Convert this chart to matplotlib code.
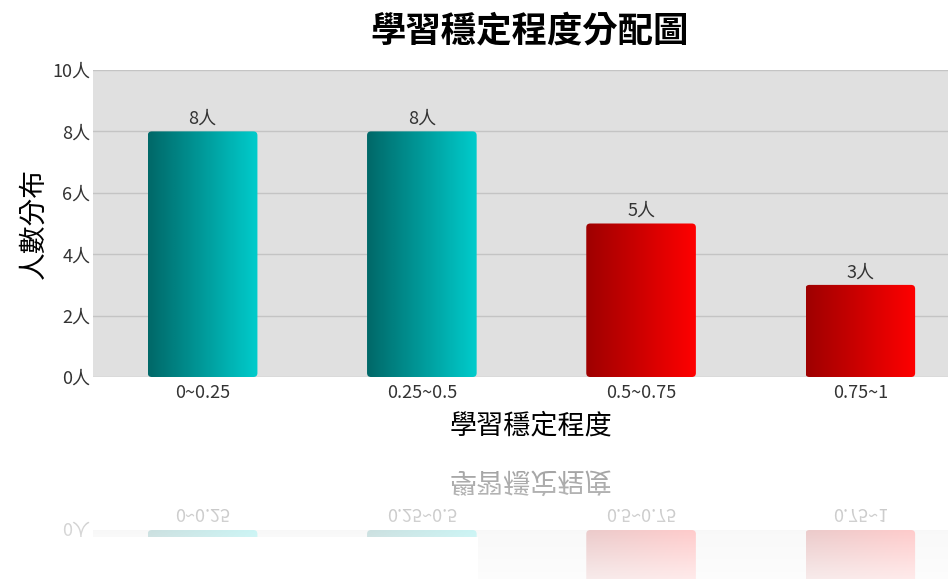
import numpy as np
import matplotlib.pyplot as plt
from matplotlib.colors import LinearSegmentedColormap
from matplotlib.patches import FancyBboxPatch

plt.rcParams['font.family'] = ['Noto Sans CJK TC', 'DejaVu Sans']

# data
categories = ['0~0.25', '0.25~0.5', '0.5~0.75', '0.75~1']
counts = [8, 8, 5, 3]
yticks = [0, 2, 4, 6, 8, 10]
ytick_labels = [f'{v}人' for v in yticks]

teal = LinearSegmentedColormap.from_list('teal', ['#006868', '#00cccc'])
red = LinearSegmentedColormap.from_list('red', ['#9e0000', '#ff0000'])
bar_cmaps = [teal, teal, red, red]

W, H = 948, 579
fig = plt.figure(figsize=(W / 100, H / 100), dpi=100)
ax = fig.add_axes([93 / W, 1 - 377 / H, 1 - 93 / W, (377 - 70) / H])
ax.set_facecolor('#e0e0e0')
ax.set_xlim(-0.5, 3.4)
ax.set_ylim(0, 10)

x = np.arange(len(categories))
bars = ax.bar(x, counts, width=0.5, color='none', edgecolor='none', zorder=3)

# pixels per data unit, used to keep the corner rounding circular
px_x = ax.bbox.width / 3.9
px_y = ax.bbox.height / 10
grad = np.linspace(0, 1, 256).reshape(1, -1)
for bar, cmap, v in zip(bars, bar_cmaps, counts):
    x0, w = bar.get_x(), bar.get_width()
    shape = FancyBboxPatch((x0, 0), w, v, boxstyle=f'round,pad=0,rounding_size={4 / px_x}',
                           mutation_aspect=px_x / px_y, facecolor='none',
                           edgecolor='none', transform=ax.transData)
    ax.add_patch(shape)
    im = ax.imshow(grad, cmap=cmap, aspect='auto', extent=[x0, x0 + w, 0, v],
                   zorder=3, interpolation='bilinear')
    im.set_clip_path(shape)
    ax.text(x0 + w / 2, v + 0.12, f'{v}人', ha='center', va='bottom',
            fontsize=13, color='#333333', zorder=4)

ax.set_xlim(-0.5, 3.4)
ax.set_ylim(0, 10)
ax.set_yticks(yticks)
ax.set_yticklabels(ytick_labels)
ax.set_xticks(x)
ax.set_xticklabels(categories)
ax.tick_params(axis='x', length=0, labelsize=13, labelcolor='#333333', pad=5)
ax.tick_params(axis='y', length=0, labelsize=13, labelcolor='#333333', pad=2)
ax.grid(axis='y', color='#c4c4c4', linewidth=1, zorder=1)
ax.set_axisbelow(True)
for s in ax.spines.values():
    s.set_visible(False)

fig.text(530 / W, 1 - 31 / H, '學習穩定程度分配圖', fontsize=25.5, fontweight='bold',
         ha='center', va='center')
ax.set_xlabel('學習穩定程度', fontsize=19.5)
ax.xaxis.set_label_coords(0.512, -0.115)
ax.set_ylabel('人數分布', fontsize=20)
ax.yaxis.set_label_coords(-0.052, 0.5)

# faded reflection below the chart
fig.canvas.draw()
img = np.asarray(fig.canvas.buffer_rgba())[:, :, :3].astype(float) / 255
mirror = 453
rows = np.arange(mirror, H)
src = img[2 * mirror - rows]
alpha = np.linspace(0.4, 0.08, len(rows))[:, None, None]
refl = 1 - alpha * (1 - src)
refl[537 - mirror:, :478] = 1.0
fig.figimage(refl, xo=0, yo=0, origin='upper', zorder=10)

fig.savefig('out.png', dpi=100)
